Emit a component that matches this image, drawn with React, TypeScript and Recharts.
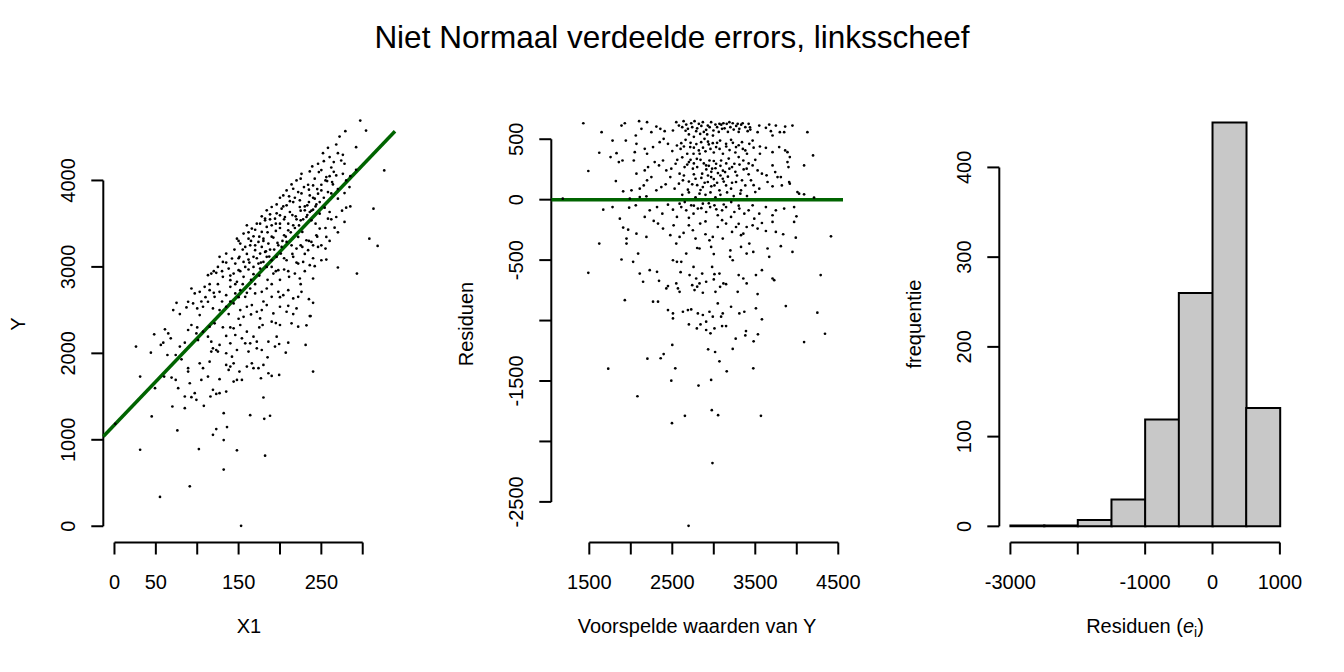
import React from 'react'
import { ScatterChart, Scatter, XAxis, YAxis, ReferenceLine, BarChart, Bar } from 'recharts'

// panel 1: X1 vs Y
const scatterPoints: [number, number][] = [
  [297,4693],[304,4577],[279,4570],[272,4508],[268,4416],[258,4377],[292,4385],[252,4316],[270,4316],[276,4296],[246,4193],[253,4223],[265,4212],[274,4231],[278,4193],[239,4162],[260,4270],
  [226,4077],[236,4104],[247,4097],[256,4039],[257,3993],[263,3981],[268,4058],[276,4077],[280,4000],[284,3923],[292,4123],[326,4116],[220,4000],[225,4020],[214,3954],[208,3885],[216,3904],[204,3827],[200,3800],[211,3816],[222,3866],[229,3923],[235,3893],[240,3943],[246,3847],[250,3885],[242,3789],[236,3827],[264,3954],[258,3866],[278,3854],[270,3789],
  [184,3654],[190,3693],[196,3723],[202,3673],[208,3712],[216,3750],[224,3770],[230,3654],[236,3635],[240,3662],[244,3723],[248,3616],[254,3685],[260,3635],[268,3577],[280,3685],[178,3585],[182,3539],[188,3608],[194,3558],[200,3597],[206,3577],[212,3635],[219,3585],[225,3539],[232,3577],[238,3539],[243,3500],[258,3558],[266,3454],[278,3520],[313,3673],[224,3693],[233,3712],
  [160,3481],[166,3443],[172,3500],[178,3404],[184,3462],[190,3481],[195,3416],[200,3500],[205,3366],[210,3423],[216,3481],[222,3347],[227,3404],[232,3308],[238,3289],[244,3366],[248,3443],[256,3347],[156,3385],[162,3327],[168,3354],[174,3289],[180,3327],[186,3270],[192,3339],[197,3277],[202,3231],[208,3289],[214,3250],[220,3212],[227,3231],[234,3193],[240,3250],[246,3231],[255,3212],[270,2993],[308,3327],[318,3243],[148,3327],[152,3270],[158,3231],[164,3250],[170,3193],[178,3231],[182,3173],[188,3200],[176,3154],[184,3116],
  [135,3154],[142,3097],[146,3039],[151,3116],[156,3058],[162,3085],[168,3116],[174,3039],[180,3058],[190,3077],[196,3116],[201,3154],[208,3077],[216,3116],[222,3039],[228,3058],[236,3020],[242,3008],[250,3077],[256,3085],[125,3000],[131,3058],[138,2981],[144,2923],[150,2962],[156,2885],[162,2970],[168,2916],[176,2981],[184,3000],[192,2923],[198,2962],[205,2970],[211,2885],[218,2923],[224,2866],[240,2866],[293,2923],[127,3116],[123,2931],[113,2904],[117,2923],[131,2885],[140,2847],[148,2827],
  [93,2750],[97,2693],[103,2712],[109,2770],[115,2731],[121,2654],[127,2712],[135,2673],[140,2770],[146,2693],[152,2731],[158,2654],[164,2750],[170,2693],[178,2712],[184,2750],[190,2654],[198,2712],[204,2673],[210,2731],[216,2635],[222,2654],[226,2712],[235,2627],[240,2585],[75,2585],[89,2597],[87,2531],[95,2577],[100,2520],[107,2539],[113,2597],[119,2520],[127,2500],[135,2539],[144,2577],[152,2500],[160,2539],[166,2558],[172,2481],[178,2500],[184,2558],[192,2462],[200,2539],[208,2481],[216,2454],[220,2520],[237,2431],[71,2500],[79,2454],[103,2443],[138,2454],[156,2423],[176,2404],
  [26,2078],[48,2220],[61,2278],[65,2231],[68,2174],[56,2097],[59,2124],[64,1981],[74,1981],[79,2078],[85,2124],[89,2270],[93,2328],[99,2231],[101,2154],[107,2251],[113,2193],[117,2135],[119,2058],[123,2039],[127,2097],[135,2201],[140,2116],[146,2212],[148,2039],[154,2174],[160,2251],[164,2116],[168,2193],[172,2135],[178,2039],[179,2328],[186,2135],[190,2366],[196,2193],[200,2328],[207,2008],[210,2124],[214,2347],[222,2308],[232,2324],[236,2431],[115,2308],[121,2347],[131,2301],[144,2289],[152,2328],[158,2116],[125,2020],[162,2020],[172,2058],[194,2078],[199,2108],[135,2001],[142,1962],[144,1885],
  [31,1731],[44,2008],[49,1597],[60,1731],[69,1720],[74,1693],[77,1597],[81,1931],[89,1828],[89,1789],[91,1654],[97,1539],[99,1462],[103,1885],[105,1693],[107,1828],[113,1731],[115,1904],[117,2020],[119,1578],[127,1701],[127,1539],[135,1866],[135,1558],[138,1808],[140,1847],[144,1674],[148,1693],[151,1789],[154,1693],[160,1847],[166,1885],[168,1828],[174,1828],[177,1712],[180,1866],[185,1954],[186,1770],[190,1739],[199,1751],[240,1789],[116,1501],[123,1531],[93,1493],[85,1501],
  [45,1270],[70,1385],[76,1108],[85,1366],[108,1393],[123,1124],[119,1058],[132,1308],[136,1147],[132,997],[102,893],[148,878],[132,655],[91,462],[55,339],[153,5],[31,885],[164,1285],[180,1489],[181,1243],[188,1278],[182,816],[231,2097],[1,1185],
  // dense core of the cloud
  [150,3100],[155,3200],[160,3150],[165,3300],[170,3250],[175,3350],[180,3300],[185,3400],[190,3350],[195,3500],[200,3450],[205,3550],[210,3500],[215,3600],[220,3550],[225,3650],[230,3700],[235,3750],[240,3800],[245,3900],[250,3950],[255,4000],[260,4050],[265,4100],
  [152,2950],[158,3000],[163,3050],[168,3000],[172,3100],[177,3050],[183,3180],[187,3120],[193,3200],[198,3250],[203,3300],[207,3350],[213,3400],[218,3450],[223,3480],[228,3550],[233,3600],[238,3650],[243,3700],[248,3750],[253,3800],[262,3850],[270,3900],[285,4050],
  [145,3200],[150,3300],[162,3400],[170,3430],[176,3500],[182,3560],[188,3550],[196,3620],[204,3700],[212,3760],[218,3800],[226,3850],[234,3950],[242,4020],[250,4120],[262,4150],
  [140,2900],[146,2800],[155,2800],[165,2850],[175,2900],[185,2850],[195,2950],[205,3100],[215,3150],[225,3250],[235,3300],[245,3350],[255,3450],[262,3550],[275,3650],[285,3700],
  [130,2950],[135,3050],[125,2800],[120,2700],[110,2650],[105,2600],[115,2800],[120,2950],[100,2300],[130,2600],[140,2600],[150,2650],[160,2700],[170,2800],[190,2800],[200,2850],[210,2950],[220,3050],[230,3150],[250,3250],[260,3300],[270,3400],
  [190,3000],[180,2600],[200,2650],[210,2550],[225,2800],[230,2950],[240,3100],[150,2400],[165,2450],[140,2300],[175,2300],[195,2350],
]

const fitIntercept = 1173
const fitSlope = 10.02

// panel 2: fitted value vs residual
const residPoints: [number, number][] = [
  [1428,632],[1888,613],[1928,632],[2100,649],[2196,641],[2308,605],[2356,586],[2408,567],[2548,641],[2580,613],[2636,649],[2668,621],[2728,632],[2768,649],[2820,627],[2868,641],[2928,613],[2968,641],[3020,621],[3068,627],[3116,632],[3156,627],[3188,641],[3228,632],[3288,627],[3348,632],[3420,627],[3436,599],[3548,613],[3668,621],[3748,613],[3860,605],[3948,613],[4128,558],[1648,558],[1780,489],[2060,531],[2068,462],[2128,586],[2248,558],[2508,572],[2688,586],[2788,567],[2836,544],[2908,578],[2996,572],[3100,586],[3308,586],[3408,567],[3528,558],[3628,594],[3688,567],[3796,558],[3848,558],[3708,531],
  [1828,385],[1620,388],[1756,352],[1856,311],[1940,489],[2048,393],[2168,421],[2196,380],[2268,435],[2348,476],[2396,503],[2448,462],[2500,402],[2556,448],[2608,467],[2660,495],[2716,435],[2756,380],[2820,407],[2848,476],[2888,503],[2940,457],[2988,467],[3028,435],[3076,489],[3148,462],[3208,495],[3268,435],[3340,476],[3380,407],[3428,462],[3468,489],[3556,440],[3628,429],[3556,380],[3708,393],[3788,435],[3888,393],[3916,352],[3888,311],[4196,366],[3860,407],
  [1488,237],[1900,324],[2036,324],[2068,215],[2168,242],[2208,270],[2288,311],[2340,283],[2388,324],[2428,242],[2488,256],[2540,297],[2588,215],[2648,270],[2700,311],[2748,256],[2796,338],[2860,215],[2908,283],[2948,324],[2980,256],[3028,297],[3088,324],[3136,228],[3188,256],[3248,297],[3300,352],[3356,324],[3396,256],[3468,283],[3528,242],[3580,215],[3636,201],[3708,283],[3740,228],[3808,187],[3900,270],[4088,283],
  [1820,154],[1908,69],[2008,77],[2108,91],[2156,118],[2196,160],[2248,187],[2308,77],[2368,104],[2420,127],[2476,187],[2528,91],[2580,132],[2628,160],[2688,83],[2740,127],[2780,173],[2828,50],[2868,104],[2928,146],[2968,187],[3008,118],[3068,77],[3108,173],[3148,118],[3208,91],[3268,146],[3328,77],[3380,118],[3448,160],[3500,63],[3548,91],[3648,146],[3708,110],[3768,187],[3820,118],[3908,146],[3916,132],[4028,50],[4088,44],[4008,63],[4208,17],[1988,8],[2108,22],[2188,28],[1180,8],
  [1668,-83],[1780,-61],[1868,-157],[1980,-66],[2060,-47],[2168,-143],[2228,-88],[2316,-61],[2380,-116],[2448,-41],[2508,-83],[2556,-143],[2608,-61],[2668,-88],[2728,-47],[2756,-116],[2808,-74],[2868,-33],[2908,-102],[2956,-61],[3008,-47],[3048,-129],[3100,-88],[3148,-61],[3208,-143],[3248,-102],[3308,-74],[3368,-116],[3420,-88],[3488,-157],[3548,-116],[3628,-61],[3708,-129],[3748,-88],[3848,-74],[3968,-61],[3996,-138],[3468,-47],[2588,-33],
  [1620,-363],[1908,-231],[1968,-248],[2068,-281],[1948,-322],[2188,-308],[2276,-176],[2328,-198],[2388,-239],[2476,-294],[2516,-212],[2588,-308],[2636,-275],[2700,-212],[2748,-253],[2780,-322],[2836,-198],[2900,-286],[2948,-336],[2988,-308],[3048,-226],[3108,-322],[3148,-198],[3220,-267],[3268,-226],[3328,-294],[3356,-281],[3396,-226],[3468,-212],[3528,-239],[3580,-193],[3628,-259],[3708,-184],[3748,-267],[3836,-286],[3988,-314],[3968,-184],[4412,-303],[1948,-363],[2088,-446],
  [1488,-605],[1888,-495],[2028,-514],[2108,-611],[2148,-679],[2228,-583],[2316,-597],[2340,-671],[2428,-734],[2508,-501],[2556,-514],[2608,-514],[2668,-446],[2708,-624],[2756,-556],[2788,-652],[2828,-693],[2860,-611],[2908,-679],[2980,-556],[3008,-616],[3068,-611],[3116,-693],[3196,-473],[3228,-501],[3300,-624],[3328,-391],[3356,-652],[3396,-446],[3428,-363],[3476,-432],[3508,-624],[3580,-583],[3648,-404],[3668,-473],[3708,-652],[3728,-666],[3808,-385],[3948,-432],[4288,-624],[2828,-404],[2968,-391],[2548,-363],
  [1928,-831],[2268,-844],[2328,-844],[2448,-715],[2548,-693],[2568,-734],[2588,-762],[2740,-707],[2768,-748],[2868,-770],[3020,-762],[3076,-721],[3148,-699],[3288,-762],[3396,-693],[3528,-781],[2448,-913],[2508,-941],[2628,-927],[2688,-913],[2728,-908],[2808,-941],[2868,-954],[2948,-927],[2988,-968],[3048,-858],[3108,-941],[3208,-886],[3308,-941],[3368,-927],[3508,-899],[3580,-990],[3868,-880],[4248,-935],[2508,-982],[2908,-1009],[3088,-968],
  [2700,-1032],[2840,-1032],[2796,-1065],[2908,-1078],[2960,-1106],[3008,-1065],[3100,-1046],[3148,-1046],[3388,-1087],[3380,-1123],[3532,-1114],[3264,-1150],[3480,-1172],[4088,-1178],[4340,-1109],[2500,-1202],[2396,-1277],[2360,-1312],[2200,-1315],[2932,-1238],[3016,-1260],[3228,-1235],[3068,-1337],[1728,-1398],[2536,-1395],[3156,-1420],[3476,-1395],[2488,-1497],[2968,-1491],
  [2816,-1538],[2080,-1626],[2976,-1741],[2652,-1788],[3052,-1783],[3568,-1788],[2496,-1849],[2984,-2179],[2696,-2698],
  // dense core
  [2620,600],[2660,570],[2700,540],[2740,600],[2760,520],[2800,590],[2850,610],[2880,560],[2920,540],[2950,600],[2990,530],[3040,600],[3060,560],[3090,620],[3130,590],[3170,560],[3200,600],[3240,580],[3270,610],[3300,560],[3330,620],[3380,600],[3440,580],
  [2600,420],[2640,440],[2680,380],[2720,470],[2760,430],[2790,460],[2830,380],[2870,430],[2900,400],[2930,480],[2960,420],[3000,390],[3040,470],[3070,420],[3110,380],[3150,440],[3190,410],[3230,470],[3260,390],[3300,450],[3350,420],[3400,380],[3480,430],
  [2560,330],[2620,350],[2680,290],[2720,330],[2760,300],[2800,270],[2840,330],[2880,300],[2910,250],[2940,280],[2970,230],[3000,320],[3020,260],[3050,220],[3080,280],[3110,240],[3150,300],[3180,340],[3220,270],[3260,230],[3310,290],[3360,250],[3420,300],[3500,330],
  [2640,200],[2700,150],[2760,210],[2800,120],[2850,180],[2890,140],[2930,200],[2970,110],[3000,170],[3040,140],[3080,200],[3120,150],[3170,190],[3220,140],[3280,200],[3340,160],[3420,210],[3480,120],
  [2620,40],[2700,60],[2780,20],[2840,80],[2900,40],[2960,60],[3020,20],[3080,40],[3160,60],[3240,30],[3320,50],[3400,30],
  [2650,-20],[2760,-50],[2850,-70],[2940,-30],[3030,-80],[3120,-40],[3210,-20],[3300,-50],[2700,-150],[2900,-180],[3100,-170],[3300,-200],[2800,-400],[3000,-450],[3200,-420],[2600,-600],[2800,-720],[3000,-660],
]

// panel 3: histogram of residuals
const binStarts = [-3000, -2500, -2000, -1500, -1000, -500, 0, 500]
const binWidth = 500
const binCounts = [1, 1, 7, 30, 119, 260, 450, 132]

const x1Ticks = [0, 50, 100, 150, 200, 250, 300]
const x1Labels = [0, 50, 150, 250]
const yTicks = [0, 1000, 2000, 3000, 4000]
const fitTicks = [1500, 2000, 2500, 3000, 3500, 4000, 4500]
const fitLabels = [1500, 2500, 3500, 4500]
const residTicks = [-2500, -2000, -1500, -1000, -500, 0, 500]
const residLabels = [-2500, -1500, -500, 0, 500]
const histXTicks = [-3000, -2000, -1000, 0, 1000]
const histXLabels = [-3000, -1000, 0, 1000]
const histYTicks = [0, 100, 200, 300, 400]

const x1Domain: [number, number] = [-13.5, 339]
const yDomain: [number, number] = [-188, 4867]
const fitDomain: [number, number] = [1042, 4557]
const residDomain: [number, number] = [-2836, 779]
const histXDomain: [number, number] = [-3165, 1165]
const histYDomain: [number, number] = [-18, 469]

const FONT = '"Liberation Sans", Arial, Helvetica, sans-serif'
const GREEN = '#006400'
const W = 448
const H = 672
const margin = { top: 105.5, right: 53, bottom: 0, left: 0 }
const AXW = 103.3
const AXH = 129.5
const tickLine = { stroke: '#000', strokeWidth: 2 }

const Dot = (p: any) => <circle cx={p.cx} cy={p.cy} r={1.35} fill="#000" />

const xTick = (labels: number[]) => (p: any) =>
  labels.includes(p.payload.value)
    ? <text x={p.x} y={p.y} textAnchor="middle" fontSize={20} fontFamily={FONT} fill="#000">{p.payload.value}</text>
    : <g />

const yTick = (labels: number[]) => (p: any) =>
  labels.includes(p.payload.value)
    ? <text x={p.x} y={p.y} transform={`rotate(-90 ${p.x} ${p.y})`} textAnchor="middle" fontSize={20} fontFamily={FONT} fill="#000">{p.payload.value}</text>
    : <g />

const axisLine = { stroke: '#000', strokeWidth: 2, ifOverflow: 'visible' as const }

export default function App() {
  const p1 = scatterPoints.map(([x, y]) => ({ x, y }))
  const p2 = residPoints.map(([x, y]) => ({ x, y }))
  const hist = binStarts.map((s, i) => ({ mid: s + binWidth / 2, count: binCounts[i] }))
  const fitLine = [
    { x: x1Domain[0], y: fitIntercept + fitSlope * x1Domain[0] },
    { x: x1Domain[1], y: fitIntercept + fitSlope * x1Domain[1] },
  ]

  return (
    <div style={{ position: 'absolute', left: 0, top: 0, width: 1344, height: 672, background: '#fff', fontFamily: FONT }}>
      <div style={{ position: 'absolute', left: 0, top: 0 }}>
        <ScatterChart width={W} height={H} margin={margin}>
          <XAxis type="number" dataKey="x" domain={x1Domain} allowDataOverflow ticks={x1Ticks} interval={0}
            axisLine={false} tickLine={tickLine} tickSize={12} tickMargin={34.3} height={AXH} tick={xTick(x1Labels)} />
          <YAxis type="number" dataKey="y" domain={yDomain} allowDataOverflow ticks={yTicks} interval={0}
            axisLine={false} tickLine={tickLine} tickSize={12} tickMargin={16.3} width={AXW} tick={yTick(yTicks)} />
          <ReferenceLine segment={[{ x: x1Domain[0], y: 0 }, { x: x1Domain[0], y: 4000 }]} {...axisLine} />
          <ReferenceLine segment={[{ x: 0, y: yDomain[0] }, { x: 300, y: yDomain[0] }]} {...axisLine} />
          <Scatter data={p1} shape={Dot} isAnimationActive={false} />
          <ReferenceLine segment={fitLine} stroke={GREEN} strokeWidth={3.5} ifOverflow="visible" />
        </ScatterChart>
      </div>

      <div style={{ position: 'absolute', left: W, top: 0 }}>
        <ScatterChart width={W} height={H} margin={margin}>
          <XAxis type="number" dataKey="x" domain={fitDomain} allowDataOverflow ticks={fitTicks} interval={0}
            axisLine={false} tickLine={tickLine} tickSize={12} tickMargin={34.3} height={AXH} tick={xTick(fitLabels)} />
          <YAxis type="number" dataKey="y" domain={residDomain} allowDataOverflow ticks={residTicks} interval={0}
            axisLine={false} tickLine={tickLine} tickSize={12} tickMargin={16.3} width={AXW} tick={yTick(residLabels)} />
          <ReferenceLine segment={[{ x: fitDomain[0], y: -2500 }, { x: fitDomain[0], y: 500 }]} {...axisLine} />
          <ReferenceLine segment={[{ x: 1500, y: residDomain[0] }, { x: 4500, y: residDomain[0] }]} {...axisLine} />
          <Scatter data={p2} shape={Dot} isAnimationActive={false} />
          <ReferenceLine y={0} stroke={GREEN} strokeWidth={3.5} />
        </ScatterChart>
      </div>

      <div style={{ position: 'absolute', left: 2 * W, top: 0 }}>
        <BarChart width={W} height={H} margin={margin} data={hist} barCategoryGap={0} barGap={0}>
          <XAxis type="number" dataKey="mid" domain={histXDomain} allowDataOverflow ticks={histXTicks} interval={0}
            axisLine={false} tickLine={tickLine} tickSize={12} tickMargin={34.3} height={AXH} tick={xTick(histXLabels)} />
          <YAxis type="number" domain={histYDomain} allowDataOverflow ticks={histYTicks} interval={0}
            axisLine={false} tickLine={tickLine} tickSize={12} tickMargin={16.3} width={AXW} tick={yTick(histYTicks)} />
          <Bar dataKey="count" fill="#c8c8c8" stroke="#000" strokeWidth={2} isAnimationActive={false} />
          <ReferenceLine segment={[{ x: histXDomain[0], y: 0 }, { x: histXDomain[0], y: 400 }]} {...axisLine} />
          <ReferenceLine segment={[{ x: -3000, y: histYDomain[0] }, { x: 1000, y: histYDomain[0] }]} {...axisLine} />
        </BarChart>
      </div>

      <svg width={1344} height={672} style={{ position: 'absolute', left: 0, top: 0, pointerEvents: 'none' }}
        fontFamily={FONT} fill="#000">
        <text x={672} y={48} textAnchor="middle" fontSize={31.5}>Niet Normaal verdeelde errors, linksscheef</text>
        <text x={249} y={633} textAnchor="middle" fontSize={20}>X1</text>
        <text x={697} y={633} textAnchor="middle" fontSize={20}>Voorspelde waarden van Y</text>
        <text x={1145} y={633} textAnchor="middle" fontSize={20}>
          Residuen (<tspan fontStyle="italic">e</tspan><tspan fontSize={14} dy={4}>i</tspan><tspan dy={-4}>)</tspan>
        </text>
        <text x={25} y={324} textAnchor="middle" fontSize={20} transform="rotate(-90 25 324)">Y</text>
        <text x={473} y={324} textAnchor="middle" fontSize={20} transform="rotate(-90 473 324)">Residuen</text>
        <text x={921} y={324} textAnchor="middle" fontSize={20} transform="rotate(-90 921 324)">frequentie</text>
      </svg>
    </div>
  )
}
